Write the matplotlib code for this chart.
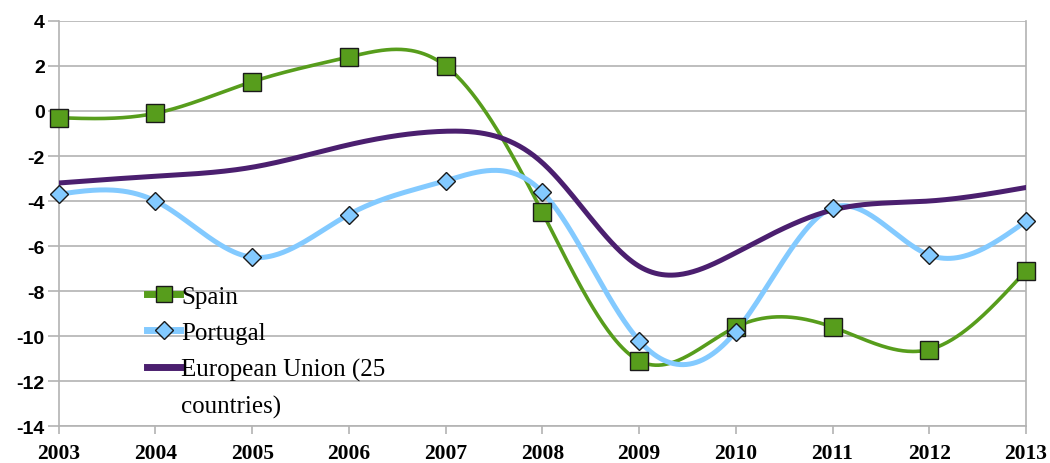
import matplotlib.pyplot as plt
from matplotlib.lines import Line2D
import numpy as np

plt.rcParams['axes.unicode_minus'] = False

# data
years = [2003, 2004, 2005, 2006, 2007, 2008, 2009, 2010, 2011, 2012, 2013]
spain = [-0.3, -0.1, 1.3, 2.4, 2.0, -4.5, -11.1, -9.6, -9.6, -10.6, -7.1]
portugal = [-3.7, -4.0, -6.5, -4.6, -3.1, -3.6, -10.2, -9.8, -4.3, -6.4, -4.9]
eu25 = [-3.2, -2.9, -2.5, -1.5, -0.9, -2.3, -6.9, -6.3, -4.4, -4.0, -3.4]
ylabels = ['-14', '-12', '-10', '-8', '-6', '-4', '-2', '0', '2', '4']

c_spain = '#579d1c'
c_port = '#83caff'
c_eu = '#4b1f6f'
grid_c = '#b3b3b3'


def smooth(x, y, n=60):
    # natural cubic spline through the points (office "smooth line")
    x = np.asarray(x, float)
    y = np.asarray(y, float)
    m = len(x)
    h = np.diff(x)
    A = np.zeros((m, m))
    r = np.zeros(m)
    A[0, 0] = A[-1, -1] = 1
    for i in range(1, m - 1):
        A[i, i - 1] = h[i - 1]
        A[i, i] = 2 * (h[i - 1] + h[i])
        A[i, i + 1] = h[i]
        r[i] = 6 * ((y[i + 1] - y[i]) / h[i] - (y[i] - y[i - 1]) / h[i - 1])
    M = np.linalg.solve(A, r)
    xs, ys = [], []
    for i in range(m - 1):
        t = np.linspace(x[i], x[i + 1], n)
        a = (x[i + 1] - t) / h[i]
        b = (t - x[i]) / h[i]
        s = a * y[i] + b * y[i + 1] + ((a ** 3 - a) * M[i] + (b ** 3 - b) * M[i + 1]) * h[i] ** 2 / 6
        xs.extend(t)
        ys.extend(s)
    return np.array(xs), np.array(ys)


fig = plt.figure(figsize=(10.5, 4.64), dpi=100)
ax = fig.add_axes([0.0559, 0.0797, 0.9212, 0.8729])

sx, sy = smooth(years, spain)
ax.plot(sx, sy, color=c_spain, lw=2.6, zorder=3)
ax.plot(years, spain, ls='none', marker='s', ms=12.5, mfc=c_spain, mec='#1a1a1a',
        mew=1.0, zorder=5, clip_on=False)

px_, py_ = smooth(years, portugal)
ax.plot(px_, py_, color=c_port, lw=3.6, zorder=3)
ax.plot(years, portugal, ls='none', marker='D', ms=9.5, mfc=c_port, mec='#1a1a1a',
        mew=1.0, zorder=5, clip_on=False)

ex, ey = smooth(years, eu25)
ax.plot(ex, ey, color=c_eu, lw=3.6, zorder=4)

# legend handles (second line of the EU label gets an empty handle)
h1 = Line2D([], [], color=c_spain, lw=5, marker='s', ms=12, mfc=c_spain, mec='#1a1a1a')
h2 = Line2D([], [], color=c_port, lw=5, marker='D', ms=9, mfc=c_port, mec='#1a1a1a')
h3 = Line2D([], [], color=c_eu, lw=5)
h4 = Line2D([], [], color='none', lw=0)
leg = fig.legend([h1, h2, h3, h4], ['Spain', 'Portugal', 'European Union (25', 'countries)'],
                 loc='upper left', bbox_to_anchor=(0.14, 0.383), frameon=False,
                 borderaxespad=0, borderpad=0,
                 handlelength=1.32, handletextpad=0.05, labelspacing=0.55,
                 prop={'family': 'Liberation Serif', 'size': 18})

ax.set_xlim(2003, 2013)
ax.set_ylim(-14, 4)
ax.set_xticks(years)
ax.set_xticklabels([str(y) for y in years], fontfamily='Liberation Serif',
                   fontweight='bold', fontsize=15.5)
ax.set_yticks(np.arange(-14, 5, 2))
ax.set_yticklabels(ylabels, fontfamily='Liberation Sans', fontweight='bold', fontsize=14)
ax.yaxis.grid(True, color=grid_c, lw=1.2)
ax.set_axisbelow(True)

for s in ['left', 'right', 'bottom']:
    ax.spines[s].set_color(grid_c)
    ax.spines[s].set_linewidth(1.2)
ax.spines['top'].set_visible(False)

ax.tick_params(axis='y', length=8, color=grid_c, width=1.2, pad=2)
ax.tick_params(axis='x', length=6, color=grid_c, width=1.2, pad=6)

fig.savefig('out.png', dpi=100)
